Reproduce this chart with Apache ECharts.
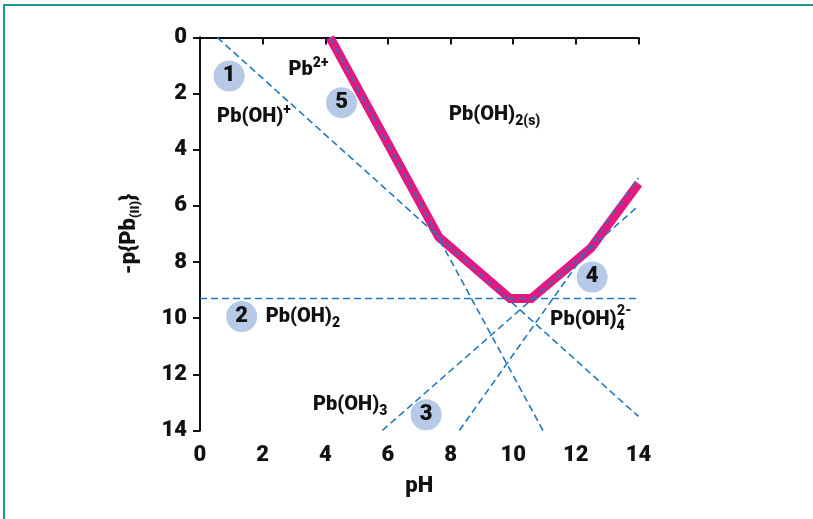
<!DOCTYPE html>
<html>
<head>
<meta charset="utf-8">
<script src="https://cdn.jsdelivr.net/npm/echarts@6/dist/echarts.min.js"></script>
<style>
html,body{margin:0;padding:0;background:#fff;}
#c{width:813px;height:519px;}
</style>
</head>
<body>
<div id="c"></div>
<script>
// ---- data ----
const xTicks = [0, 2, 4, 6, 8, 10, 12, 14];
const yTicks = [0, 2, 4, 6, 8, 10, 12, 14];
const linePbOH = [[0.55, 0], [14, 13.5]];          // Pb2+ / Pb(OH)+
const linePb2 = [[4.15, 0], [10.95, 14]];          // Pb2+ / Pb(OH)2(s)
const linePbOH2 = [[0, 9.3], [14, 9.3]];           // Pb(OH)2 aq
const linePbOH3 = [[5.82, 14], [14, 6.0]];         // Pb(OH)3-
const linePbOH4 = [[8.28, 14], [14, 5.0]];         // Pb(OH)4 2-
const boundary = [[4.15, 0], [7.62, 7.1], [9.9, 9.3], [10.57, 9.3], [12.48, 7.5], [14, 5.2]];
const circles = [
  { n: '1', pos: [0.93, 1.37] },
  { n: '5', pos: [4.52, 2.32] },
  { n: '2', pos: [1.33, 9.94] },
  { n: '3', pos: [7.22, 13.44] },
  { n: '4', pos: [12.52, 8.53] }
];
const species = [
  { text: 'Pb{sup|2+}', pos: [2.81, 1.16] },
  { text: 'Pb(OH){sup|+}', pos: [0.53, 2.82] },
  { text: 'Pb(OH){sub|2(s)}', pos: [7.93, 2.76] },
  { text: 'Pb(OH){sub|2}', pos: [2.08, 9.94] },
  { text: 'Pb(OH){sub|3}', pos: [3.59, 13.08] },
  { text: 'Pb(OH){sub|4}', pos: [11.17, 10.06] },
  { text: '{sup0|2-}', pos: [13.3, 9.75] }
];

const FONT = "Roboto,'DejaVu Sans Condensed',sans-serif";
const W = 900;
const INK = '#111';
const BLUE = '#1f78c1';
const MAGENTA = '#e6187f';

const rich = {
  sup: { fontFamily: FONT, fontWeight: W, fontSize: 14, color: INK, padding: [0, 0, 13, 0] },
  sup0: { fontFamily: FONT, fontWeight: W, fontSize: 14, color: INK },
  sub: { fontFamily: FONT, fontWeight: W, fontSize: 14, color: INK, padding: [13, 0, 0, 0] }
};

function dashed(data) {
  return {
    type: 'line', data: data, symbol: 'none', silent: true, z: 3,
    lineStyle: { color: BLUE, width: 1.6, type: [7, 4] }
  };
}

const chart = echarts.init(document.getElementById('c'));
chart.setOption({
  animation: false,
  backgroundColor: '#fff',
  textStyle: { fontFamily: FONT },
  grid: { left: 200, top: 37.5, right: 174.5, bottom: 88.5 },
  graphic: [
    { type: 'rect', shape: { x: 3, y: 4, width: 2, height: 515 }, style: { fill: '#179b8b' }, silent: true },
    { type: 'rect', shape: { x: 3, y: 4, width: 810, height: 2 }, style: { fill: '#179b8b' }, silent: true }
  ],
  xAxis: [{
    type: 'value', min: 0, max: 14, interval: 2,
    name: 'pH', nameLocation: 'middle', nameGap: 45,
    nameTextStyle: { fontFamily: FONT, fontWeight: W, fontSize: 22, color: INK },
    axisLine: { show: true, lineStyle: { color: INK, width: 2 } },
    axisTick: { show: true, length: 7, lineStyle: { color: INK, width: 2 } },
    axisLabel: { fontFamily: FONT, fontWeight: W, fontSize: 22, color: INK, margin: 14,
      customValues: xTicks },
    splitLine: { show: false }
  }, {
    type: 'value', min: 0, max: 14, position: 'top',
    axisLine: { show: true, lineStyle: { color: INK, width: 2 } },
    axisTick: { show: false }, axisLabel: { show: false }, splitLine: { show: false }
  }],
  yAxis: [{
    type: 'value', min: 0, max: 14, interval: 2, inverse: true,
    name: '-p{Pb{sub|(II)}}', nameLocation: 'middle', nameGap: 58, nameRotate: 90,
    nameTextStyle: { fontFamily: FONT, fontWeight: W, fontSize: 22, color: INK,
      rich: { sub: { fontFamily: FONT, fontWeight: W, fontSize: 13, color: INK, padding: [12, 0, 0, 0] } } },
    axisLine: { show: true, lineStyle: { color: INK, width: 2 } },
    axisTick: { show: true, length: 7, lineStyle: { color: INK, width: 2 } },
    axisLabel: { fontFamily: FONT, fontWeight: W, fontSize: 22, color: INK, margin: 13,
      customValues: yTicks },
    splitLine: { show: false }
  }, {
    type: 'value', min: 0, max: 14, inverse: true, position: 'right',
    axisLine: { show: true, lineStyle: { color: INK, width: 2 } },
    axisTick: { show: false }, axisLabel: { show: false }, splitLine: { show: false }
  }],
  series: [
    {
      type: 'line', data: boundary, symbol: 'none', silent: true, z: 2,
      lineStyle: { color: MAGENTA, width: 9, join: 'miter' }
    },
    dashed(linePbOH),
    dashed(linePb2),
    dashed(linePbOH2),
    dashed(linePbOH3),
    dashed(linePbOH4),
    {
      type: 'scatter', z: 5, silent: true, symbolSize: 31,
      itemStyle: { color: '#b6c9e7', opacity: 1 },
      data: circles.map(c => ({ value: c.pos, name: c.n })),
      label: { show: true, position: 'inside', formatter: p => p.name,
        fontFamily: FONT, fontWeight: W, fontSize: 22, color: INK, textBorderWidth: 0 }
    },
    {
      type: 'scatter', z: 6, silent: true, symbolSize: 1,
      itemStyle: { color: '#fff', opacity: 1 },
      data: species.map(s => ({ value: s.pos, name: s.text })),
      label: { show: true, position: 'right', distance: 0, formatter: p => p.name,
        fontFamily: FONT, fontWeight: W, fontSize: 20, color: INK, rich: rich }
    }
  ]
});
</script>
</body>
</html>
